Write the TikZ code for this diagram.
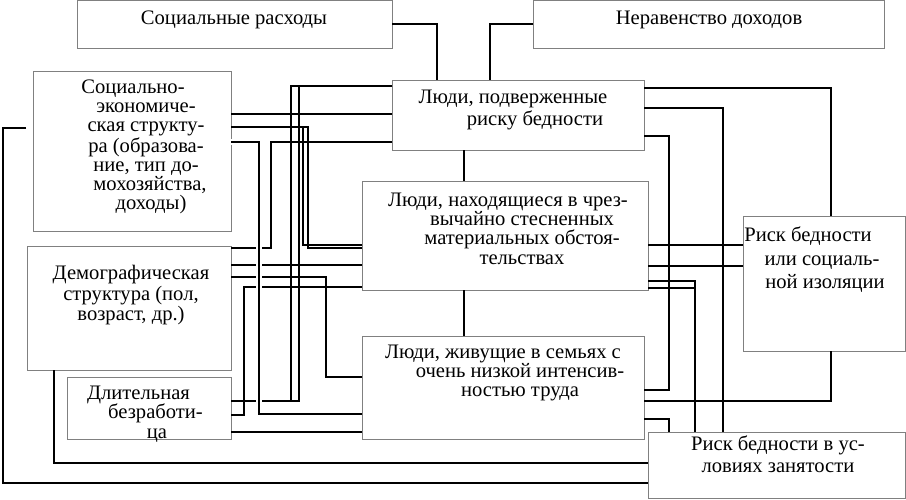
\documentclass[tikz,border=0pt]{standalone}
\usepackage{fontspec}
\setmainfont{Liberation Serif}
\begin{document}
\begin{tikzpicture}[x=0.5pt,y=-0.5pt,
  box/.style={draw=black!50, line width=0.5pt, inner sep=0pt, outer sep=0pt, anchor=north west},
  lbl/.style={align=center, inner sep=0pt, font=\fontsize{10.3pt}{9.7pt}\selectfont},
  link/.style={line width=1pt, draw=black},
  over/.style={link, preaction={draw=white, line width=3pt}}]
\useasboundingbox (0,0) rectangle (906,499);
% boxes
\node[box, minimum width=157.5pt, minimum height=23.75pt] (A) at (77,0.5) {};
\node[box, minimum width=175.5pt, minimum height=23.75pt] (B) at (533,0.5) {};
\node[box, minimum width=99pt, minimum height=80pt] (C) at (33,71) {};
\node[box, minimum width=126pt, minimum height=35pt] (D) at (392,80) {};
\node[box, minimum width=143pt, minimum height=54.5pt] (E) at (362,181) {};
\node[box, minimum width=81.25pt, minimum height=67.5pt] (F) at (743,216) {};
\node[box, minimum width=102pt, minimum height=62pt] (G) at (27,246) {};
\node[box, minimum width=141pt, minimum height=51.5pt] (H) at (362,336) {};
\node[box, minimum width=82pt, minimum height=31pt] (I) at (67,377) {};
\node[box, minimum width=128.75pt, minimum height=33.25pt] (J) at (648,432) {};
% labels
\node[lbl] (At) at (234,20) {Социальные расходы};
\node[lbl] (Bt) at (709,20) {Неравенство доходов};
\node[lbl, font=\fontsize{10.3pt}{9.55pt}\selectfont] (Ct) at (146,147) {Социально-\hspace*{13pt}\\экономиче-\hspace*{4.5pt}\\ская структу-\\ра (образова-\\ние, тип до-\\\hspace*{4pt}мохозяйства,\\\hspace*{5pt}доходы)};
\node[lbl, font=\fontsize{10.3pt}{9.2pt}\selectfont] (Dt) at (524,110) {Люди, подверженные\hspace*{11pt}\\\hspace*{11pt}риску бедности};
\node[lbl] (Et) at (522,228.5) {Люди, находящиеся в чрез-\hspace*{14pt}\\вычайно стесненных\\материальных обстоя-\\тельствах};
\node[lbl, font=\fontsize{10.3pt}{11.75pt}\selectfont] (Ft) at (822,260) {Риск бедности\hspace*{14pt}\\или социаль-\\\hspace*{3pt}ной изоляции};
\node[lbl, font=\fontsize{10.3pt}{10.25pt}\selectfont] (Gt) at (131,295.5) {Демографическая\\структура (пол,\\возраст, др.)};
\node[lbl] (Ht) at (520,373) {Люди, живущие в семьях с\hspace*{17pt}\\очень низкой интенсив-\\ностью труда};
\node[lbl] (It) at (152,414) {Длительная\hspace*{13.5pt}\\\hspace*{3.5pt}безработи-\\\hspace*{5pt}ца};
\node[lbl, font=\fontsize{10.3pt}{11pt}\selectfont] (Jt) at (778,454) {Риск бедности в ус-\\ловиях занятости};
% helper columns and rows
\foreach \c in {3,54,244,259,271,291,299,303,308,326,437,464,490,669,695,723,831}
  {\coordinate (c\c) at (\c,0);}
\foreach \r in {86,88,108,114,127,128,136,142,245,248,265,266,277,281,287,288,377,390,401,414,415,419,432,463,483}
  {\coordinate (r\r) at (0,\r);}
% connectors
\draw[link] (A.east) -| (D.north -| c437);
\draw[link] (B.west) -| (D.north -| c490);
\draw[link] (D.south -| c464) -- (E.north -| c464);
\draw[link] (E.south -| c464) -- (H.north -| c464);
\draw[link] (C.east |- r114) -- (D.west |- r114);
\draw[link] (C.east |- r127) -| (c303 |- r245) -- (E.west |- r245);
\draw[link] (C.east |- r127) -| (c308 |- r248) -- (E.west |- r248);
\draw[link] (D.west |- r142) -| (c271 |- r248) -- (G.east |- r248);
\draw[link] (D.west |- r86) -| (c291 |- r401) -- (I.east |- r401);
\draw[link] (D.west |- r86) -| (c299 |- r401) -- (I.east |- r401);
\draw[link] (G.east |- r265) -- (E.west |- r265);
\draw[link] (G.east |- r277) -| (c326 |- r377) -- (H.west |- r377);
\draw[link] (I.east |- r415) -| (c244 |- r287) -- (E.west |- r287);
\draw[link] (I.east |- r432) -- (H.west |- r432);
\draw[link] (G.south -| c54) |- (J.west |- r463);
\draw[link, shorten <=3.5pt] (C.west |- r128) -| (c3 |- r483) -- (J.west |- r483);
\draw[link] (D.east |- r88) -| (F.north -| c831);
\draw[link] (D.east |- r108) -| (J.north -| c723);
\draw[link] (D.east |- r136) -| (c669 |- r390) -- (H.east |- r390);
\draw[link] (E.east |- r245) -- (F.west |- r245);
\draw[link] (E.east |- r266) -- (F.west |- r266);
\draw[link] (E.east |- r281) -| (J.north -| c695);
\draw[link] (E.east |- r288) -| (J.north -| c695);
\draw[link] (H.east |- r401) -| (F.south -| c831);
\draw[link] (H.east |- r419) -| (J.north -| c669);
\draw[over] (C.east |- r142) -| (c259 |- r414) -- (H.west |- r414);
\end{tikzpicture}
\end{document}
